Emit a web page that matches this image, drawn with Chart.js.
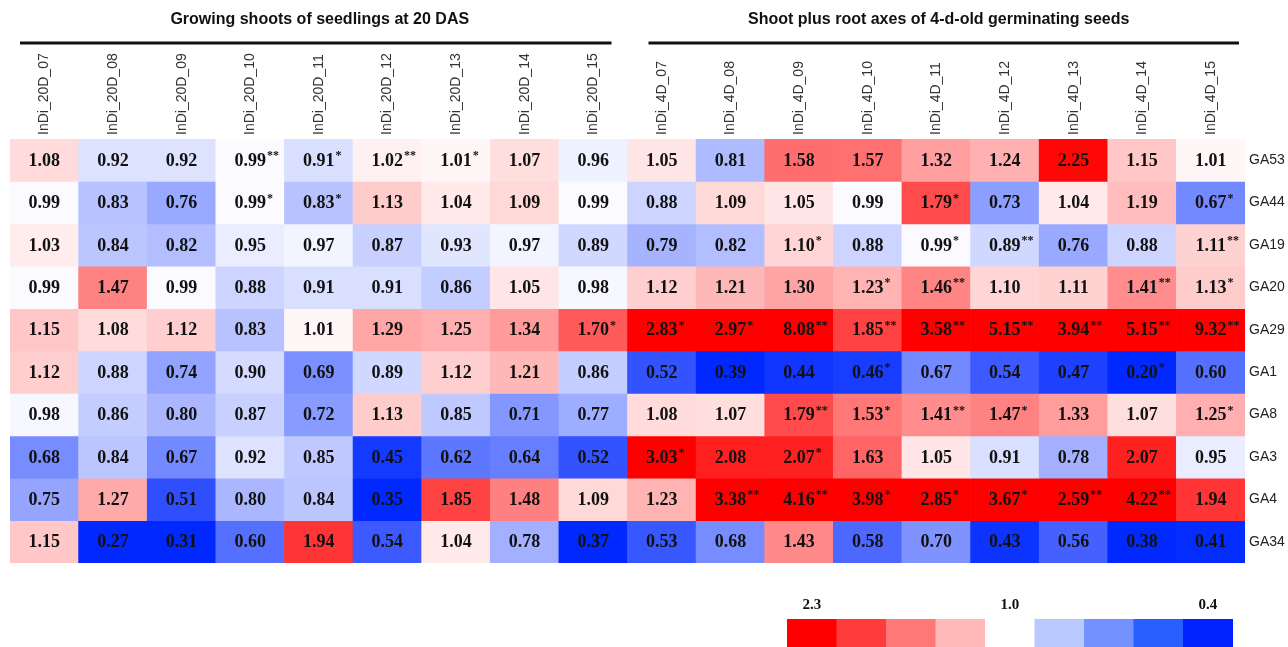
<!DOCTYPE html>
<html>
<head>
<meta charset="utf-8">
<script src="https://cdn.jsdelivr.net/npm/chart.js@4"></script>
<style>
  html, body { margin: 0; padding: 0; background: #fff; }
  canvas { display: block; }
</style>
</head>
<body>
<canvas id="heatChart" width="1288" height="647"></canvas>
<script>
// column / row labels
const columns = [
  'InDi_20D_07', 'InDi_20D_08', 'InDi_20D_09', 'InDi_20D_10', 'InDi_20D_11',
  'InDi_20D_12', 'InDi_20D_13', 'InDi_20D_14', 'InDi_20D_15',
  'InDi_4D_07', 'InDi_4D_08', 'InDi_4D_09', 'InDi_4D_10', 'InDi_4D_11',
  'InDi_4D_12', 'InDi_4D_13', 'InDi_4D_14', 'InDi_4D_15'
];
const rows = ['GA53', 'GA44', 'GA19', 'GA20', 'GA29', 'GA1', 'GA8', 'GA3', 'GA4', 'GA34'];
const groupTitles = ['Growing shoots of seedlings at 20 DAS', 'Shoot plus root axes of 4-d-old germinating seeds'];
const legendTicks = ['2.3', '1.0', '0.4'];

// values per row (20 DAS x9, then 4-d x9) and significance marks
const ga53 = [1.08, 0.92, 0.92, 0.99, 0.91, 1.02, 1.01, 1.07, 0.96, 1.05, 0.81, 1.58, 1.57, 1.32, 1.24, 2.25, 1.15, 1.01];
const ga53Sig = ['', '', '', '**', '*', '**', '*', '', '', '', '', '', '', '', '', '', '', ''];
const ga44 = [0.99, 0.83, 0.76, 0.99, 0.83, 1.13, 1.04, 1.09, 0.99, 0.88, 1.09, 1.05, 0.99, 1.79, 0.73, 1.04, 1.19, 0.67];
const ga44Sig = ['', '', '', '*', '*', '', '', '', '', '', '', '', '', '*', '', '', '', '*'];
const ga19 = [1.03, 0.84, 0.82, 0.95, 0.97, 0.87, 0.93, 0.97, 0.89, 0.79, 0.82, 1.10, 0.88, 0.99, 0.89, 0.76, 0.88, 1.11];
const ga19Sig = ['', '', '', '', '', '', '', '', '', '', '', '*', '', '*', '**', '', '', '**'];
const ga20 = [0.99, 1.47, 0.99, 0.88, 0.91, 0.91, 0.86, 1.05, 0.98, 1.12, 1.21, 1.30, 1.23, 1.46, 1.10, 1.11, 1.41, 1.13];
const ga20Sig = ['', '', '', '', '', '', '', '', '', '', '', '', '*', '**', '', '', '**', '*'];
const ga29 = [1.15, 1.08, 1.12, 0.83, 1.01, 1.29, 1.25, 1.34, 1.70, 2.83, 2.97, 8.08, 1.85, 3.58, 5.15, 3.94, 5.15, 9.32];
const ga29Sig = ['', '', '', '', '', '', '', '', '*', '*', '*', '**', '**', '**', '**', '**', '**', '**'];
const ga1 = [1.12, 0.88, 0.74, 0.90, 0.69, 0.89, 1.12, 1.21, 0.86, 0.52, 0.39, 0.44, 0.46, 0.67, 0.54, 0.47, 0.20, 0.60];
const ga1Sig = ['', '', '', '', '', '', '', '', '', '', '', '', '*', '', '', '', '*', ''];
const ga8 = [0.98, 0.86, 0.80, 0.87, 0.72, 1.13, 0.85, 0.71, 0.77, 1.08, 1.07, 1.79, 1.53, 1.41, 1.47, 1.33, 1.07, 1.25];
const ga8Sig = ['', '', '', '', '', '', '', '', '', '', '', '**', '*', '**', '*', '', '', '*'];
const ga3 = [0.68, 0.84, 0.67, 0.92, 0.85, 0.45, 0.62, 0.64, 0.52, 3.03, 2.08, 2.07, 1.63, 1.05, 0.91, 0.78, 2.07, 0.95];
const ga3Sig = ['', '', '', '', '', '', '', '', '', '*', '', '*', '', '', '', '', '', ''];
const ga4 = [0.75, 1.27, 0.51, 0.80, 0.84, 0.35, 1.85, 1.48, 1.09, 1.23, 3.38, 4.16, 3.98, 2.85, 3.67, 2.59, 4.22, 1.94];
const ga4Sig = ['', '', '', '', '', '', '', '', '', '', '**', '**', '*', '*', '*', '**', '**', ''];
const ga34 = [1.15, 0.27, 0.31, 0.60, 1.94, 0.54, 1.04, 0.78, 0.37, 0.53, 0.68, 1.43, 0.58, 0.70, 0.43, 0.56, 0.38, 0.41];
const ga34Sig = ['', '', '', '', '', '', '', '', '', '', '', '', '', '', '', '', '', ''];

const values = [ga53, ga44, ga19, ga20, ga29, ga1, ga8, ga3, ga4, ga34];
const sigs = [ga53Sig, ga44Sig, ga19Sig, ga20Sig, ga29Sig, ga1Sig, ga8Sig, ga3Sig, ga4Sig, ga34Sig];

const SANS = '"Liberation Sans", Arial, sans-serif';
const SERIF = '"Liberation Serif", "Times New Roman", serif';

// white at 1.0, red at 2.3 and above, blue at 0.4 and below
function cellColor(v) {
    if (v >= 1) {
        const t = Math.pow(Math.min((v - 1) / 1.3, 1), 0.7);
        const g = Math.round(255 * (1 - t));
        return `rgb(255,${g},${g})`;
    }
    const t = Math.min((1 - v) / 0.6, 1);
    return `rgb(${Math.round(255 - 255 * t)},${Math.round(255 - 215 * t)},255)`;
}

const legendColors = [
    '#ff0000', '#ff3c3c', '#ff7878', '#ffb9b9', '#ffffff',
    '#b9c8ff', '#7391ff', '#285fff', '#0023ff'
];

// values + stars inside each cell
const cellText = {
    id: 'cellText',
    afterDatasetsDraw(chart) {
        const ctx = chart.ctx;
        ctx.save();
        chart.data.datasets.forEach((ds, r) => {
            chart.getDatasetMeta(r).data.forEach((bar, c) => {
                const cy = (bar.y + bar.base) / 2;
                const txt = values[r][c].toFixed(2);
                ctx.font = 'bold 18px ' + SERIF;
                ctx.fillStyle = '#111';
                ctx.textAlign = 'center';
                ctx.textBaseline = 'middle';
                ctx.fillText(txt, bar.x, cy + 1);
                if (sigs[r][c]) {
                    const w = ctx.measureText(txt).width;
                    ctx.font = 'bold 12px ' + SERIF;
                    ctx.textAlign = 'left';
                    ctx.textBaseline = 'top';
                    ctx.fillText(sigs[r][c], bar.x + w / 2 + 1, cy - 10);
                }
            });
        });
        ctx.restore();
    }
};

// group titles with rules, and the colour key at the bottom
const decorations = {
    id: 'decorations',
    afterDraw(chart) {
        const ctx = chart.ctx;
        const x = chart.scales.x;
        const half = (x.getPixelForValue(1) - x.getPixelForValue(0)) / 2;
        const groups = [[0, 8, 10, 16], [9, 17, 21, 6]];
        ctx.save();
        groups.forEach(([a, b, inL, inR], i) => {
            const x0 = x.getPixelForValue(a) - half + inL;
            const x1 = x.getPixelForValue(b) + half - inR;
            ctx.strokeStyle = '#111';
            ctx.lineWidth = 3;
            ctx.beginPath();
            ctx.moveTo(x0, 43);
            ctx.lineTo(x1, 43);
            ctx.stroke();
            ctx.font = 'bold 16px ' + SANS;
            ctx.fillStyle = '#111';
            ctx.textAlign = 'center';
            ctx.textBaseline = 'middle';
            ctx.fillText(groupTitles[i], (x0 + x1) / 2 + (i === 0 ? 4 : -5), 20);
        });

        const left = chart.chartArea.right - 458;
        const bw = 49.5;
        legendColors.forEach((col, i) => {
            ctx.fillStyle = col;
            ctx.fillRect(left + i * bw, 619, bw + 0.5, 28);
        });
        ctx.font = 'bold 15px ' + SERIF;
        ctx.fillStyle = '#111';
        ctx.textAlign = 'center';
        ctx.textBaseline = 'middle';
        [0, 4, 8].forEach((k, i) => {
            ctx.fillText(legendTicks[i], left + k * bw + bw / 2, 605);
        });
        ctx.restore();
    }
};

const datasets = rows.map((name, r) => ({
    label: name,
    yAxisID: 'y',
    data: values[r].map(() => [r, r + 1]),
    backgroundColor: values[r].map(cellColor),
    borderWidth: 0,
    barPercentage: 1,
    categoryPercentage: 1
}));

new Chart(document.getElementById('heatChart').getContext('2d'), {
    type: 'bar',
    data: { labels: columns, datasets: datasets },
    options: {
        responsive: false,
        animation: false,
        layout: { padding: { top: 0, left: 10, right: 0, bottom: 84 } },
        plugins: {
            legend: { display: false },
            tooltip: { enabled: false }
        },
        scales: {
            x: {
                position: 'top',
                stacked: true,
                grid: { display: false, drawTicks: false },
                border: { display: false },
                ticks: {
                    autoSkip: false,
                    minRotation: 90,
                    maxRotation: 90,
                    padding: 4,
                    labelOffset: 17,
                    color: '#333',
                    font: { family: SANS, size: 14 }
                },
                afterFit: (s) => { s.height = 139; }
            },
            y: {
                display: false,
                min: 0,
                max: 10,
                reverse: true
            },
            yRows: {
                type: 'category',
                labels: rows,
                position: 'right',
                offset: true,
                grid: { display: false, drawTicks: false },
                border: { display: false },
                ticks: {
                    padding: 4,
                    color: '#222',
                    font: { family: SANS, size: 14 }
                },
                afterFit: (s) => { s.width = 43; }
            }
        }
    },
    plugins: [cellText, decorations]
});
</script>
</body>
</html>
